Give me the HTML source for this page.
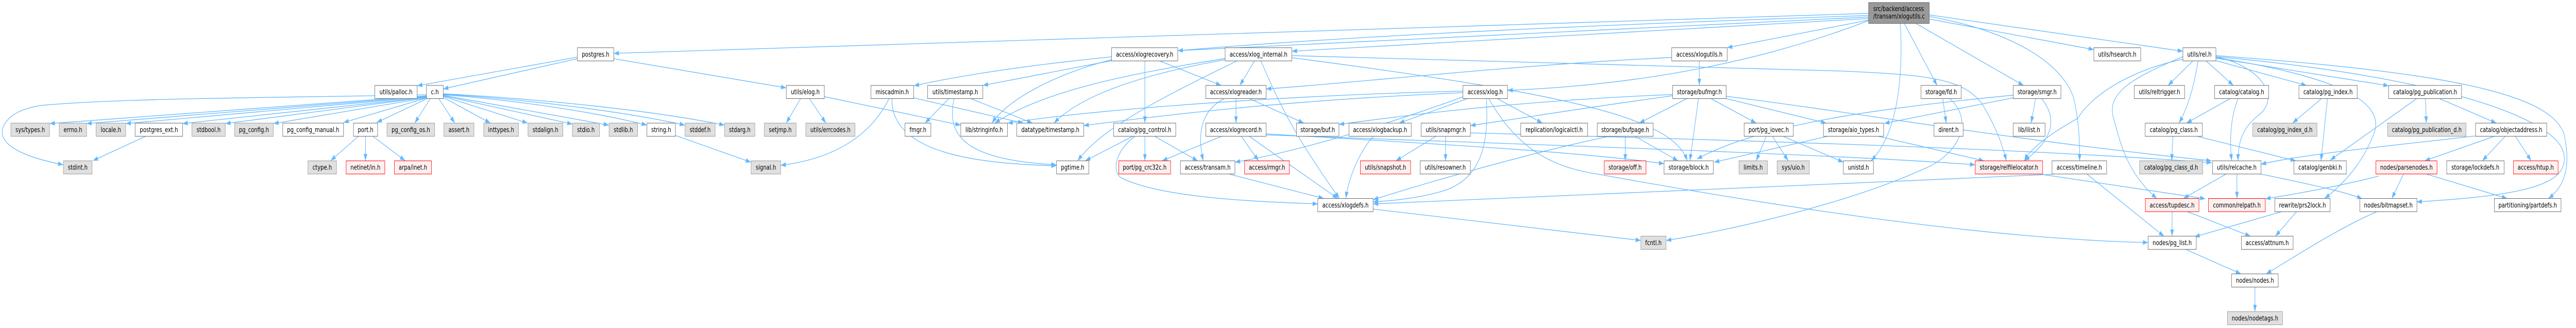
<!DOCTYPE html>
<html><head><meta charset="utf-8"><style>
html,body{margin:0;padding:0;background:#fff;width:100%;height:100%;overflow:hidden;}
svg{display:block;position:absolute;left:0;top:0;width:100vw;height:100vh;overflow:hidden;}
.w{fill:#fff;stroke:#666;stroke-width:1}
.g{fill:#e0e0e0;stroke:#999;stroke-width:1}
.r{fill:#fff0f0;stroke:#f00;stroke-width:1}
.rt{fill:#999;stroke:#666;stroke-width:1}
text{font-family:"DejaVu Sans","Liberation Sans",sans-serif;font-size:13px;fill:#000;}
.e path{fill:none;stroke:#63b8ff;stroke-width:1.3;marker-end:url(#a);}
</style></head><body>
<svg viewBox="0 0 6435 637" preserveAspectRatio="none" xmlns="http://www.w3.org/2000/svg">
<defs><marker id="a" markerUnits="userSpaceOnUse" markerWidth="13" markerHeight="9" refX="13" refY="4.5" orient="auto"><path d="M0,0 L13,4.5 L0,9 z" fill="#63b8ff"/></marker></defs>
<g class="e">
<path d="M1066,186 L124,240"/>
<path d="M1066,187 L216,240"/>
<path d="M1066,188 L314,240"/>
<path d="M1066,189 L456,240"/>
<path d="M1066,189 L563,240"/>
<path d="M1066,190 L683,240"/>
<path d="M1067,190 L858,238"/>
<path d="M1068,191 L941,238"/>
<path d="M1075,191.5 L1036,239"/>
<path d="M1066,184 C700,190 300,190 100,205 C20,215 2,245 6,262 C15,290 80,308 158,320"/>
<path d="M1096,191.5 L1136,239"/>
<path d="M1107,189 L1225,239"/>
<path d="M1107,187 L1318,239"/>
<path d="M1107,186 L1430,241"/>
<path d="M1107,185 L1521,243"/>
<path d="M1107,184 C1300,195 1500,220 1616,243"/>
<path d="M1107,183 C1300,192 1550,215 1711,243"/>
<path d="M1107,182 C1300,190 1600,210 1810,243"/>
<path d="M895,265 L826,312"/>
<path d="M913,265 L913,312"/>
<path d="M932,265 L1012,312"/>
<path d="M363,265 L232,312"/>
<path d="M1442,114 L1107,172.7"/>
<path d="M1442,111 L1042,166.6"/>
<path d="M1533,114 L1964,170.6"/>
<path d="M4668,26 L1533,103.6"/>
<path d="M4668,30 C3500,62 2700,95 2283,166.6"/>
<path d="M4668,33 L2942,98.3"/>
<path d="M4668,36 L3227,99.5"/>
<path d="M4668,40 C4400,120 4100,165 3766,175.5"/>
<path d="M4668,39 L4314.5,92.6"/>
<path d="M4747,45.5 C4755,150 4740,260 4674,312.3"/>
<path d="M4757,45.5 L4839,166"/>
<path d="M4786,45.5 L5055,166"/>
<path d="M4819.5,37 L5230.5,96.3"/>
<path d="M4819.5,29 L5453,99.5"/>
<path d="M4819.5,32 C5020,60 5150,120 5180,190 C5195,240 5195,280 5195,312.3"/>
<path d="M2221,191.5 C2190,240 2120,305 1950,321"/>
<path d="M2228,191.5 C2225,300 2450,318 2639,322"/>
<path d="M2282,190 L2556,239"/>
<path d="M2370,191.5 L2311,239"/>
<path d="M2425,191.5 L2579,239"/>
<path d="M2383,191.5 C2365,260 2400,310 2639,320"/>
<path d="M2000,191.5 L1964,239"/>
<path d="M2022,191.5 L2063,239"/>
<path d="M2059,187.7 L2400,243"/>
<path d="M1687,263 L1876,315"/>
<path d="M2777,117.8 L2455.3,165.9"/>
<path d="M2777,116 C2650,140 2520,190 2478,239"/>
<path d="M2860,118.3 L2860,239"/>
<path d="M2897,118.3 L3050.6,165.9"/>
<path d="M3134,118.3 L3097,165.9"/>
<path d="M3150,118.3 C3200,210 3240,270 3346,385.5"/>
<path d="M3060,113.8 C2800,145 2600,180 2485,239"/>
<path d="M3060,116 C2850,145 2700,185 2633,239"/>
<path d="M3090,118.3 C2900,190 2750,250 2692,312.3"/>
<path d="M3227,108 L4600,138 C4800,145 4900,150 4950,200 C4990,250 5005,290 5012,312.3"/>
<path d="M3227,112 C3600,150 3950,190 4100,240 C4180,265 4205,290 4215,312.3"/>
<path d="M3087.6,191.5 L3087.6,239"/>
<path d="M3058,191.5 C3000,215 2990,260 3006,312.3"/>
<path d="M3121,191.5 L3257,239"/>
<path d="M4176,111.7 C3800,125 3400,160 3162.7,172.7"/>
<path d="M2860,265 L2860,312.3"/>
<path d="M2885,265 L2992,312.3"/>
<path d="M2835,265 C2790,290 2775,330 2800,345 C2900,385 3150,392 3292,396"/>
<path d="M2829,265 L2711,312.3"/>
<path d="M3051,265 L2903,312.3"/>
<path d="M3101,265 L3144,312.3"/>
<path d="M3121,265 L3342,385.5"/>
<path d="M3163,260 C3600,280 3950,295 4157,318"/>
<path d="M3163,262 C3800,280 4600,300 4934,320"/>
<path d="M3070,338 L3307,385.5"/>
<path d="M3431,265 C3400,290 3370,340 3362,385.5"/>
<path d="M3666,191.5 L3495,239"/>
<path d="M3740,191.5 L3853,239"/>
<path d="M3713,191.5 C3720,280 3700,350 3600,372 C3540,385 3480,390 3430,392"/>
<path d="M3719,191.5 C3790,290 3880,325 3990,338 C4500,410 5000,465 5366,471"/>
<path d="M3655,188 C3400,260 3200,300 3085,315"/>
<path d="M3655,177 C3200,185 2700,215 2517,239.5"/>
<path d="M3655,180 C3200,195 2900,225 2707,243.8"/>
<path d="M3586.5,265 L3487,312.3"/>
<path d="M3611,265 L3611,312.3"/>
<path d="M3673,258 C4200,270 5000,285 5525,316"/>
<path d="M4245,118.3 L4245,165.9"/>
<path d="M4214,191.5 L4095,239"/>
<path d="M4243,191.5 L4221.5,312.3"/>
<path d="M4274,191.5 L4387,239"/>
<path d="M4312,191.5 L4562,239"/>
<path d="M4178,183.6 C3800,195 3500,225 3344.8,241.7"/>
<path d="M4178,186 C3950,210 3800,230 3673,243.8"/>
<path d="M4312,187 C4700,225 5000,270 5524.6,312.3"/>
<path d="M4060,265 L4060,312.3"/>
<path d="M4085,265 L4192,312.3"/>
<path d="M4019,265 C3800,300 3500,370 3430,388"/>
<path d="M4412,265 L4387,312.3"/>
<path d="M4428,265 L4467,312.3"/>
<path d="M4455,265 L4605,315"/>
<path d="M4564,265 L4282,315"/>
<path d="M4693,265 L4956,312.3"/>
<path d="M4853,191.5 L4862,239"/>
<path d="M4870,191.5 C4930,230 4900,300 4800,330 C4600,400 4300,450 4162,467"/>
<path d="M3430,406 L4099,467"/>
<path d="M5085,191.5 L5074,239"/>
<path d="M5100,191.5 C5140,230 5130,270 5057,312.3"/>
<path d="M5029,184.8 C4700,210 4400,240 4239,309"/>
<path d="M5029,190 L4707,239.7"/>
<path d="M5478,118.3 L5416,165.9"/>
<path d="M5491,118.3 C5480,170 5465,210 5443,239"/>
<path d="M5511,118.3 L5579,165.9"/>
<path d="M5535.5,117.8 L5762,166"/>
<path d="M5536,110 C5650,130 5700,190 5640,225 C5600,250 5590,280 5591,312.3"/>
<path d="M5453,110 C5330,150 5260,180 5280,230 C5300,290 5320,340 5388,385.5"/>
<path d="M5453,115 C5330,135 5230,180 5190,230 C5120,260 5070,290 5057,312.3"/>
<path d="M5536,112 C5850,150 5960,200 5930,260 C5900,320 5850,360 5807,385.5"/>
<path d="M5536,108 C6100,140 6370,180 6405,260 C6422,320 6410,360 6366,385.5"/>
<path d="M5536,110 C6100,150 6390,230 6405,300 C6418,360 6300,380 6037,392"/>
<path d="M5536,113 L5967,166.6"/>
<path d="M5571,191.5 L5462,239"/>
<path d="M5591,191.5 C5570,230 5570,280 5575,312.3"/>
<path d="M5799,191.5 L5727,239"/>
<path d="M5814,191.5 L5798,312.3"/>
<path d="M5428,265 L5425,312.3"/>
<path d="M5490,265 L5735,312.3"/>
<path d="M5561,338 L5454,385.5"/>
<path d="M5588,338 L5588,385.5"/>
<path d="M5648,338 C5750,355 5850,370 5901,386"/>
<path d="M5103,339 L5509,386"/>
<path d="M5130,338.4 C4500,360 3800,385 3430,396"/>
<path d="M5213,338 L5406,459"/>
<path d="M6184,264 C5950,285 5750,300 5648,319"/>
<path d="M6230,265 L6057,312.3"/>
<path d="M6258,265 L6201,312.3"/>
<path d="M6284,265 L6323,312.3"/>
<path d="M6059,191.5 L6061,239"/>
<path d="M6037,191.5 L5821,311"/>
<path d="M6094,191.5 L6236,239"/>
<path d="M6004,338 L5975,385.5"/>
<path d="M6061,338 L6263,385.5"/>
<path d="M5942,342 C5850,360 5750,375 5659,386"/>
<path d="M5426,411 L5426,458.7"/>
<path d="M5464,411 L5622,458.7"/>
<path d="M5737,411 L5684,458.7"/>
<path d="M5700,411 L5482,460"/>
<path d="M5460,484.3 L5598,531.9"/>
<path d="M5938,411 C5850,440 5750,490 5661,531.9"/>
<path d="M5633,557.5 L5633,605.1"/>
</g>
<!-- root -->
<rect class="rt" x="4667.8" y="4.9" width="151.7" height="40.6"/>
<text x="4679.5" y="21.3">src/backend/access</text>
<text x="4679.5" y="36">/transam/xlogutils.c</text>
<g text-anchor="middle">
<rect class="w" x="1442.3" y="92.7" width="90.9" height="25.6"/><text x="1487.75" y="110">postgres.h</text>
<rect class="w" x="2776.7" y="92.7" width="165.4" height="25.6"/><text x="2859.4" y="110">access/xlogrecovery.h</text>
<rect class="w" x="3060.4" y="92.7" width="166.9" height="25.6"/><text x="3143.85" y="110">access/xlog_internal.h</text>
<rect class="w" x="4176" y="92.7" width="138.5" height="25.6"/><text x="4245.25" y="110">access/xlogutils.h</text>
<rect class="w" x="5230.5" y="92.7" width="117.1" height="25.6"/><text x="5289.05" y="110">utils/hsearch.h</text>
<rect class="w" x="5453" y="92.7" width="82.5" height="25.6"/><text x="5494.25" y="110">utils/rel.h</text>
<rect class="w" x="936.4" y="165.9" width="105.7" height="25.6"/><text x="989.25" y="183.2">utils/palloc.h</text>
<rect class="w" x="1065.3" y="165.9" width="41.9" height="25.6"/><text x="1086.25" y="183.2">c.h</text>
<rect class="w" x="1964.2" y="165.9" width="95" height="25.6"/><text x="2011.7" y="183.2">utils/elog.h</text>
<rect class="w" x="2175.5" y="165.9" width="106.7" height="25.6"/><text x="2228.85" y="183.2">miscadmin.h</text>
<rect class="w" x="2317.2" y="165.9" width="138.1" height="25.6"/><text x="2386.25" y="183.2">utils/timestamp.h</text>
<rect class="w" x="3012.1" y="165.9" width="150.6" height="25.6"/><text x="3087.4" y="183.2">access/xlogreader.h</text>
<rect class="w" x="3654.5" y="165.9" width="111.3" height="25.6"/><text x="3710.15" y="183.2">access/xlog.h</text>
<rect class="w" x="4178.3" y="165.9" width="133.8" height="25.6"/><text x="4245.2" y="183.2">storage/bufmgr.h</text>
<rect class="w" x="4798.9" y="165.9" width="100.4" height="25.6"/><text x="4849.1" y="183.2">storage/fd.h</text>
<rect class="w" x="5029.2" y="165.9" width="119.1" height="25.6"/><text x="5088.75" y="183.2">storage/smgr.h</text>
<rect class="w" x="5331.6" y="165.9" width="125.7" height="25.6"/><text x="5394.45" y="183.2">utils/reltrigger.h</text>
<rect class="w" x="5532.3" y="165.9" width="135" height="25.6"/><text x="5599.8" y="183.2">catalog/catalog.h</text>
<rect class="w" x="5742.8" y="165.9" width="145.5" height="25.6"/><text x="5815.55" y="183.2">catalog/pg_index.h</text>
<rect class="w" x="5967.3" y="165.9" width="181.8" height="25.6"/><text x="6058.2" y="183.2">catalog/pg_publication.h</text>
<rect class="g" x="27.2" y="239.1" width="96.4" height="25.6"/><text x="75.4" y="256.4">sys/types.h</text>
<rect class="g" x="148.1" y="239.1" width="68.2" height="25.6"/><text x="182.2" y="256.4">errno.h</text>
<rect class="g" x="240" y="239.1" width="74" height="25.6"/><text x="277" y="256.4">locale.h</text>
<rect class="w" x="337.5" y="239.1" width="118.8" height="25.6"/><text x="396.9" y="256.4">postgres_ext.h</text>
<rect class="g" x="479.4" y="239.1" width="83.3" height="25.6"/><text x="521.05" y="256.4">stdbool.h</text>
<rect class="g" x="586.1" y="239.1" width="96.5" height="25.6"/><text x="634.35" y="256.4">pg_config.h</text>
<rect class="w" x="706.3" y="239.1" width="151.9" height="25.6"/><text x="782.25" y="256.4">pg_config_manual.h</text>
<rect class="w" x="883" y="239.1" width="60.3" height="25.6"/><text x="913.15" y="256.4">port.h</text>
<rect class="g" x="966.7" y="239.1" width="119.1" height="25.6"/><text x="1026.25" y="256.4">pg_config_os.h</text>
<rect class="g" x="1108.9" y="239.1" width="75.1" height="25.6"/><text x="1146.45" y="256.4">assert.h</text>
<rect class="g" x="1208.4" y="239.1" width="86.8" height="25.6"/><text x="1251.8" y="256.4">inttypes.h</text>
<rect class="g" x="1319" y="239.1" width="87.1" height="25.6"/><text x="1362.55" y="256.4">stdalign.h</text>
<rect class="g" x="1429.9" y="239.1" width="67.5" height="25.6"/><text x="1463.65" y="256.4">stdio.h</text>
<rect class="g" x="1521.5" y="239.1" width="71.3" height="25.6"/><text x="1557.15" y="256.4">stdlib.h</text>
<rect class="w" x="1616.1" y="239.1" width="71.2" height="25.6"/><text x="1651.7" y="256.4">string.h</text>
<rect class="g" x="1711.4" y="239.1" width="75.1" height="25.6"/><text x="1748.95" y="256.4">stddef.h</text>
<rect class="g" x="1810.2" y="239.1" width="75.5" height="25.6"/><text x="1847.95" y="256.4">stdarg.h</text>
<rect class="g" x="1909.4" y="239.1" width="79.4" height="25.6"/><text x="1949.1" y="256.4">setjmp.h</text>
<rect class="g" x="2012.9" y="239.1" width="122.9" height="25.6"/><text x="2074.35" y="256.4">utils/errcodes.h</text>
<rect class="w" x="2260.8" y="239.1" width="64.6" height="25.6"/><text x="2293.1" y="256.4">fmgr.h</text>
<rect class="w" x="2400.1" y="239.1" width="116.7" height="25.6"/><text x="2458.45" y="256.4">lib/stringinfo.h</text>
<rect class="w" x="2540.1" y="239.1" width="167.3" height="25.6"/><text x="2623.75" y="256.4">datatype/timestamp.h</text>
<rect class="w" x="2782.1" y="239.1" width="155" height="25.6"/><text x="2859.6" y="256.4">catalog/pg_control.h</text>
<rect class="w" x="3012.1" y="239.1" width="150.6" height="25.6"/><text x="3087.4" y="256.4">access/xlogrecord.h</text>
<rect class="w" x="3238.6" y="239.1" width="106.2" height="25.6"/><text x="3291.7" y="256.4">storage/buf.h</text>
<rect class="w" x="3369.7" y="239.1" width="155.7" height="25.6"/><text x="3447.55" y="256.4">access/xlogbackup.h</text>
<rect class="w" x="3549.9" y="239.1" width="123.3" height="25.6"/><text x="3611.55" y="256.4">utils/snapmgr.h</text>
<rect class="w" x="3798.9" y="239.1" width="166.9" height="25.6"/><text x="3882.35" y="256.4">replication/logicalctl.h</text>
<rect class="w" x="3990" y="239.1" width="139.7" height="25.6"/><text x="4059.85" y="256.4">storage/bufpage.h</text>
<rect class="w" x="4356.9" y="239.1" width="122.9" height="25.6"/><text x="4418.35" y="256.4">port/pg_iovec.h</text>
<rect class="w" x="4554.9" y="239.1" width="150.6" height="25.6"/><text x="4630.2" y="256.4">storage/aio_types.h</text>
<rect class="w" x="4831.2" y="239.1" width="72.8" height="25.6"/><text x="4867.6" y="256.4">dirent.h</text>
<rect class="w" x="5029.2" y="239.1" width="79.4" height="25.6"/><text x="5068.9" y="256.4">lib/ilist.h</text>
<rect class="w" x="5358.8" y="239.1" width="142.8" height="25.6"/><text x="5430.2" y="256.4">catalog/pg_class.h</text>
<rect class="g" x="5627.7" y="239.1" width="160.2" height="25.6"/><text x="5707.8" y="256.4">catalog/pg_index_d.h</text>
<rect class="g" x="5964.4" y="239.1" width="195.8" height="25.6"/><text x="6062.3" y="256.4">catalog/pg_publication_d.h</text>
<rect class="w" x="6184.1" y="239.1" width="177.7" height="25.6"/><text x="6272.95" y="256.4">catalog/objectaddress.h</text>
<rect class="g" x="158.4" y="312.3" width="71.6" height="25.6"/><text x="194.2" y="329.6">stdint.h</text>
<rect class="g" x="769.3" y="312.3" width="71.3" height="25.6"/><text x="804.95" y="329.6">ctype.h</text>
<rect class="r" x="864.7" y="312.3" width="96.5" height="25.6"/><text x="912.95" y="329.6">netinet/in.h</text>
<rect class="r" x="985.3" y="312.3" width="92.6" height="25.6"/><text x="1031.6" y="329.6">arpa/inet.h</text>
<rect class="g" x="1876.3" y="312.3" width="73.9" height="25.6"/><text x="1913.25" y="329.6">signal.h</text>
<rect class="w" x="2639.3" y="312.3" width="80.6" height="25.6"/><text x="2679.6" y="329.6">pgtime.h</text>
<rect class="r" x="2794.7" y="312.3" width="129.5" height="25.6"/><text x="2859.45" y="329.6">port/pg_crc32c.h</text>
<rect class="w" x="2948.7" y="312.3" width="136.2" height="25.6"/><text x="3016.8" y="329.6">access/transam.h</text>
<rect class="r" x="3109" y="312.3" width="112" height="25.6"/><text x="3165" y="329.6">access/rmgr.h</text>
<rect class="r" x="3398.2" y="312.3" width="125.6" height="25.6"/><text x="3461" y="329.6">utils/snapshot.h</text>
<rect class="w" x="3547.6" y="312.3" width="125.6" height="25.6"/><text x="3610.4" y="329.6">utils/resowner.h</text>
<rect class="r" x="4007.5" y="312.3" width="104.3" height="25.6"/><text x="4059.65" y="329.6">storage/off.h</text>
<rect class="w" x="4156.9" y="312.3" width="122.9" height="25.6"/><text x="4218.35" y="329.6">storage/block.h</text>
<rect class="g" x="4344" y="312.3" width="71.2" height="25.6"/><text x="4379.6" y="329.6">limits.h</text>
<rect class="g" x="4439.3" y="312.3" width="80.6" height="25.6"/><text x="4479.6" y="329.6">sys/uio.h</text>
<rect class="w" x="4604.8" y="312.3" width="75.1" height="25.6"/><text x="4642.35" y="329.6">unistd.h</text>
<rect class="r" x="4934.3" y="312.3" width="168.4" height="25.6"/><text x="5018.5" y="329.6">storage/relfilelocator.h</text>
<rect class="w" x="5126.1" y="312.3" width="136.3" height="25.6"/><text x="5194.25" y="329.6">access/timeline.h</text>
<rect class="g" x="5344.8" y="312.3" width="157.6" height="25.6"/><text x="5423.6" y="329.6">catalog/pg_class_d.h</text>
<rect class="w" x="5526.9" y="312.3" width="121.4" height="25.6"/><text x="5587.6" y="329.6">utils/relcache.h</text>
<rect class="w" x="5730.4" y="312.3" width="130.8" height="25.6"/><text x="5795.8" y="329.6">catalog/genbki.h</text>
<rect class="r" x="5935.2" y="312.3" width="152.6" height="25.6"/><text x="6011.5" y="329.6">nodes/parsenodes.h</text>
<rect class="w" x="6112.1" y="312.3" width="143.2" height="25.6"/><text x="6183.7" y="329.6">storage/lockdefs.h</text>
<rect class="r" x="6278.7" y="312.3" width="111.5" height="25.6"/><text x="6334.45" y="329.6">access/htup.h</text>
<rect class="w" x="3291.9" y="385.5" width="138.2" height="25.6"/><text x="3361" y="402.8">access/xlogdefs.h</text>
<rect class="r" x="5359.2" y="385.5" width="133.9" height="25.6"/><text x="5426.15" y="402.8">access/tupdesc.h</text>
<rect class="r" x="5516.8" y="385.5" width="142" height="25.6"/><text x="5587.8" y="402.8">common/relpath.h</text>
<rect class="w" x="5682.5" y="385.5" width="138.4" height="25.6"/><text x="5751.7" y="402.8">rewrite/prs2lock.h</text>
<rect class="w" x="5894.9" y="385.5" width="142.7" height="25.6"/><text x="5966.25" y="402.8">nodes/bitmapset.h</text>
<rect class="w" x="6231" y="385.5" width="166.6" height="25.6"/><text x="6314.3" y="402.8">partitioning/partdefs.h</text>
<rect class="g" x="4098.9" y="458.7" width="63.1" height="25.6"/><text x="4130.45" y="476">fcntl.h</text>
<rect class="w" x="5366.2" y="458.7" width="120.2" height="25.6"/><text x="5426.3" y="476">nodes/pg_list.h</text>
<rect class="w" x="5598.9" y="458.7" width="129.5" height="25.6"/><text x="5663.65" y="476">access/attnum.h</text>
<rect class="w" x="5574.8" y="531.9" width="116.3" height="25.6"/><text x="5632.95" y="549.2">nodes/nodes.h</text>
<rect class="g" x="5564.2" y="605.1" width="137.8" height="25.6"/><text x="5633.1" y="622.4">nodes/nodetags.h</text>
</g>
</svg>
</body></html>
